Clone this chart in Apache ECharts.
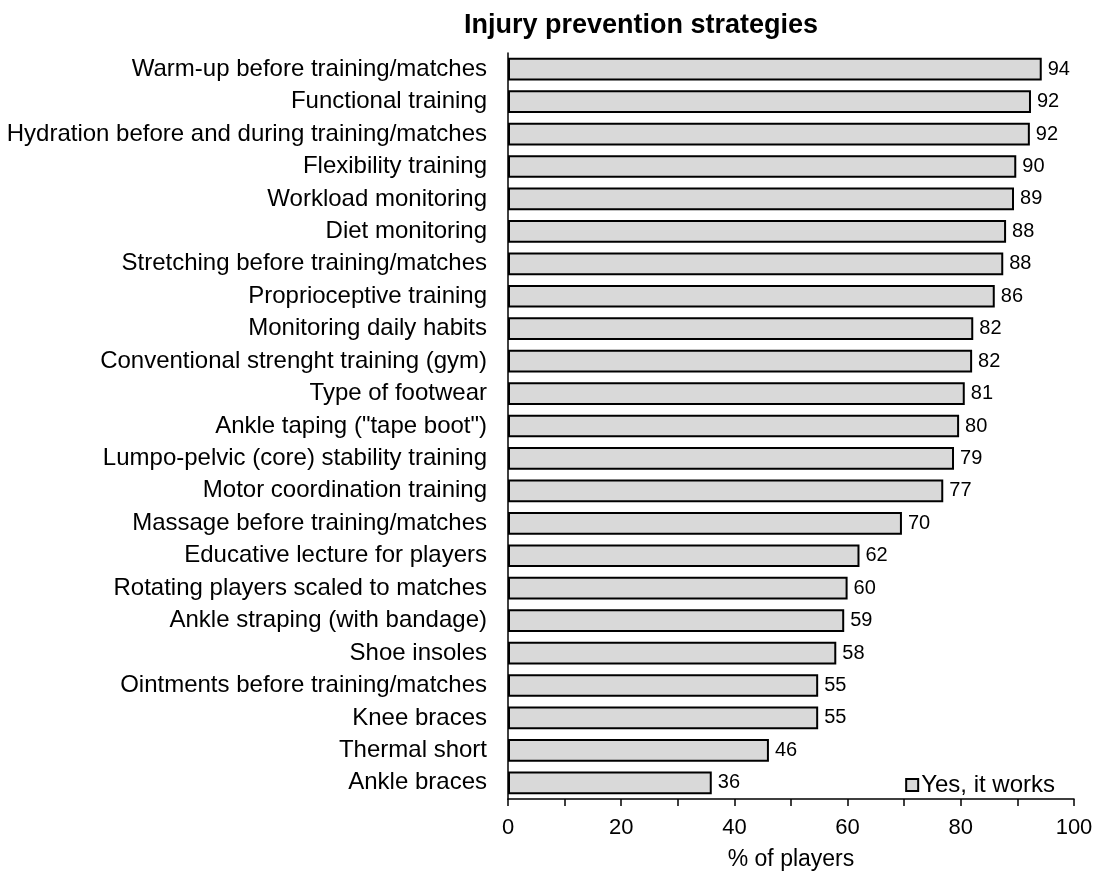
<!DOCTYPE html>
<html>
<head>
<meta charset="utf-8">
<script src="https://cdn.jsdelivr.net/npm/echarts@6/dist/echarts.min.js"></script>
<style>
  html, body { margin: 0; padding: 0; background: #fff; }
  #chart { width: 1098px; height: 876px; }
</style>
</head>
<body>
<div id="chart"></div>
<script>
// top to bottom as in the picture
const categories = [
  'Warm-up before training/matches',
  'Functional training',
  'Hydration before and during training/matches',
  'Flexibility training',
  'Workload monitoring',
  'Diet monitoring',
  'Stretching before training/matches',
  'Proprioceptive training',
  'Monitoring daily habits',
  'Conventional strenght training (gym)',
  'Type of footwear',
  'Ankle taping ("tape boot")',
  'Lumpo-pelvic (core) stability training',
  'Motor coordination training',
  'Massage before training/matches',
  'Educative lecture for players',
  'Rotating players scaled to matches',
  'Ankle straping (with bandage)',
  'Shoe insoles',
  'Ointments before training/matches',
  'Knee braces',
  'Thermal short',
  'Ankle braces'
];
const yesValues = [94.3, 92.4, 92.2, 89.8, 89.4, 88.0, 87.5, 86.0, 82.2, 82.0, 80.7, 79.7, 78.8, 76.9, 69.6, 62.1, 60.0, 59.4, 58.0, 54.8, 54.8, 46.1, 36.0];
const xTicks = [0, 20, 40, 60, 80, 100];

const myChart = echarts.init(document.getElementById('chart'));
const font = 'Liberation Sans, Arial, sans-serif';

myChart.setOption({
  animation: false,
  graphic: [{
    type: 'text',
    x: 641,
    y: 26,
    style: {
      text: 'Injury prevention strategies',
      align: 'center',
      verticalAlign: 'middle',
      fontFamily: font,
      fontSize: 27,
      fontWeight: 'bold',
      fill: '#000'
    }
  }],
  legend: {
    data: ['Yes, it works'],
    right: 38,
    top: 768,
    icon: 'rect',
    itemWidth: 12,
    itemHeight: 12,
    itemGap: 4,
    textStyle: { fontFamily: font, fontSize: 24, color: '#000', padding: [0, 0, 0, -2] }
  },
  grid: {
    left: 508,
    right: 24,
    top: 53,
    bottom: 75,
    containLabel: false
  },
  xAxis: {
    type: 'value',
    min: 0,
    max: 100,
    interval: 20,
    name: '% of players',
    nameLocation: 'middle',
    nameGap: 49,
    nameTextStyle: { fontFamily: font, fontSize: 23, color: '#000' },
    axisLine: { show: true, lineStyle: { color: '#000', width: 1.5 } },
    axisTick: { show: true, length: 7, lineStyle: { color: '#000', width: 1.5 } },
    minorTick: { show: true, splitNumber: 2, length: 7, lineStyle: { color: '#000', width: 1.5 } },
    splitLine: { show: false },
    axisLabel: {
      fontFamily: font, fontSize: 22, color: '#000', margin: 18,
      formatter: v => xTicks.includes(v) ? String(v) : ''
    }
  },
  yAxis: {
    type: 'category',
    data: categories,
    inverse: true,
    axisLine: { show: true, lineStyle: { color: '#000', width: 1.5 } },
    axisTick: { show: false },
    axisLabel: { fontFamily: font, fontSize: 24, color: '#000', margin: 21 }
  },
  series: [{
    name: 'Yes, it works',
    type: 'bar',
    data: yesValues,
    barCategoryGap: '30%',
    itemStyle: { color: '#d9d9d9', borderColor: '#000', borderWidth: 2 },
    label: {
      show: true,
      position: 'right',
      distance: 6,
      fontFamily: font,
      fontSize: 20,
      color: '#000',
      formatter: p => Math.round(p.value)
    }
  }]
});
</script>
</body>
</html>
